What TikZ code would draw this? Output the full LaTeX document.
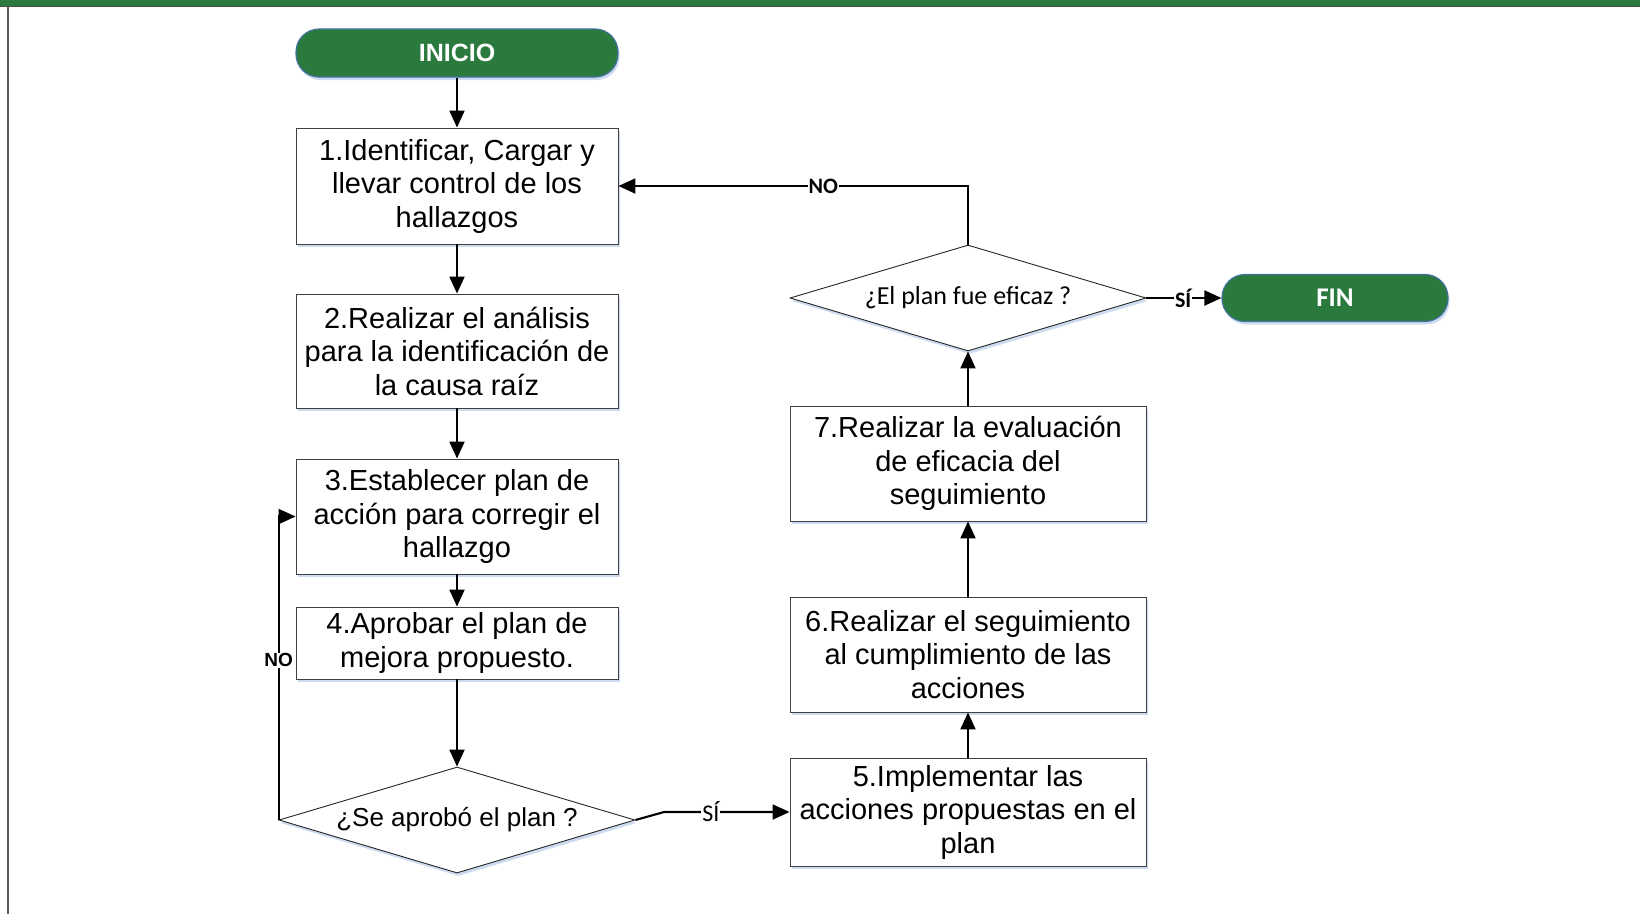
\documentclass[tikz,border=0pt]{standalone}
\usepackage{fontspec}
\setmainfont{Liberation Sans}
\newfontfamily\calib{Carlito}
\usetikzlibrary{arrows.meta,shapes.geometric,shadows}
\definecolor{gr}{RGB}{42,122,62}
\definecolor{pillborder}{RGB}{65,113,156}
\definecolor{shad}{RGB}{170,195,230}
\begin{document}
\begin{tikzpicture}[x=1pt,y=-1pt,
  shd/.style={drop shadow={shadow xshift=1.5pt,shadow yshift=-3pt,fill=shad,opacity=0.6}},
  box/.style={draw=black!75,line width=0.9pt,fill=white,shd,minimum width=322pt,align=center,
    inner sep=0pt,font=\fontsize{29}{33.5}\selectfont},
  rbox/.style={box,minimum width=356pt},
  pill/.style={draw=pillborder,line width=1.2pt,fill=gr,text=white,shd,rounded corners=23pt,
    inner sep=0pt},
  dec/.style={diamond,draw=black!85,line width=0.9pt,fill=white,shd,aspect=3.36,inner sep=0pt,
    minimum width=356pt,minimum height=106pt},
  arr/.style={-{Triangle[width=15pt,length=17pt]},line width=2.1pt},
  lbl/.style={fill=white,inner sep=1pt}
]
\fill[white] (0,0) rectangle (1640,914);
\useasboundingbox (0,0) rectangle (1640,914);
\fill[gr] (0,0) rectangle (1640,6);
\draw[black!70,line width=1.5pt] (0,6.5) -- (1640,6.5);
\draw[black!65,line width=2pt] (8,6) -- (8,914);

\node[pill,minimum width=322pt,minimum height=48pt,font=\fontsize{25}{28}\selectfont\bfseries] (inicio) at (457,53) {INICIO};
\node[box,minimum height=116pt] (b1) at (457,186) {1.Identificar, Cargar y\\llevar control de los\\hallazgos};
\node[box,minimum height=114pt] (b2) at (457,351) {2.Realizar el análisis\\para la identificación de\\la causa raíz};
\node[box,minimum height=115pt] (b3) at (457,516.5) {3.Establecer plan de\\acción para corregir el\\hallazgo};
\node[box,minimum height=72pt] (b4) at (457,643) {4.Aprobar el plan de\\mejora propuesto.};
\node[dec,font=\fontsize{26}{28}\selectfont] (d1) at (457,820) {¿Se aprobó el plan ?};

\node[rbox,minimum height=108pt] (b5) at (968,812) {5.Implementar las\\acciones propuestas en el\\plan};
\node[rbox,minimum height=115pt] (b6) at (968,654.5) {6.Realizar el seguimiento\\al cumplimiento de las\\acciones};
\node[rbox,minimum height=115pt] (b7) at (968,463.5) {7.Realizar la evaluación\\de eficacia del\\seguimiento};
\node[dec,font=\calib\fontsize{26}{28}\selectfont] (d2) at (968,298) {¿El plan fue eficaz ?};
\node[pill,minimum width=226pt,minimum height=47pt,font=\calib\fontsize{27}{30}\selectfont\bfseries] (fin) at (1335,298) {FIN};

\coordinate (k) at (664,812);

\draw[arr] (inicio) -- (b1);
\draw[arr] (b1) -- (b2);
\draw[arr] (b2) -- (b3);
\draw[arr] (b3) -- (b4);
\draw[arr] (b4) -- (d1);
\draw[arr] (b5) -- (b6);
\draw[arr] (b6) -- (b7);
\draw[arr] (b7) -- (d2);
\draw[arr] (d1.west) -- node[lbl,pos=0.526,font=\fontsize{19}{21}\selectfont\bfseries]{NO} (d1.west |- b3.west) -- (b3.west);
\draw[arr] (d2.north) -- (d2.north |- b1.east) -- node[lbl,pos=0.414,font=\calib\fontsize{22}{24}\selectfont\bfseries]{NO} (b1.east);
\draw[arr] (d1.east) -- (k) -- node[lbl,pos=0.373,font=\calib\fontsize{24}{26}\selectfont]{SÍ} (b5.west);
\draw[arr] (d2.east) -- node[lbl,pos=0.49,font=\calib\fontsize{22}{24}\selectfont\bfseries]{SÍ} (fin.west);
\end{tikzpicture}
\end{document}
